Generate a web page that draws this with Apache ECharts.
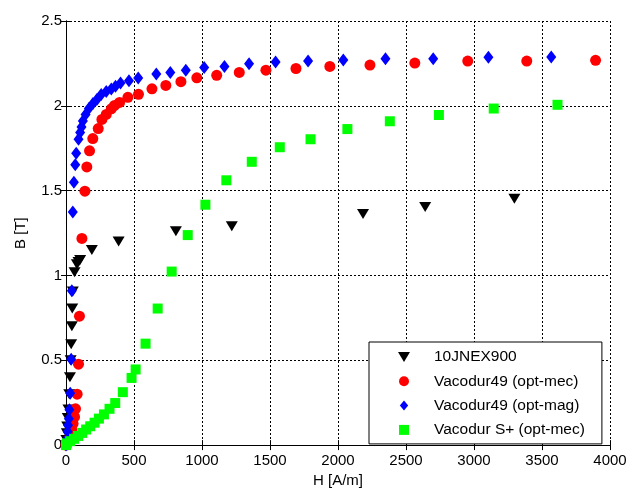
<!DOCTYPE html>
<html>
<head>
<meta charset="utf-8">
<script src="https://cdn.jsdelivr.net/npm/echarts@6/dist/echarts.min.js"></script>
<style>
html,body{margin:0;padding:0;background:#fff;}
#chart{width:641px;height:493px;}
</style>
</head>
<body>
<div id="chart"></div>
<script>
const seriesNames = ['10JNEX900', 'Vacodur49 (opt-mec)', 'Vacodur49 (opt-mag)', 'Vacodur S+ (opt-mec)'];

const jnexH = [0, 3, 6, 9, 13, 18, 24, 29, 34, 38, 43, 46, 50, 63, 80, 92, 104, 190, 387, 808, 1219, 2184, 2641, 3297];
const jnexB = [0, 0.03, 0.07, 0.11, 0.16, 0.21, 0.3, 0.4, 0.5, 0.594, 0.70, 0.805, 0.906, 1.019, 1.066, 1.08, 1.091, 1.15, 1.2, 1.26, 1.29, 1.362, 1.403, 1.452];

const mecH = [0, 15, 30, 42, 52, 63, 70, 82, 92, 99, 117, 139, 153, 173, 197, 237, 264, 296, 333, 357, 394, 455, 533, 632, 734, 845, 962, 1108, 1274, 1470, 1691, 1940, 2235, 2565, 2954, 3388, 3894];
const mecB = [0, 0.02, 0.05, 0.09, 0.127, 0.166, 0.214, 0.30, 0.477, 0.76, 1.218, 1.497, 1.64, 1.735, 1.807, 1.866, 1.92, 1.949, 1.982, 2.002, 2.02, 2.05, 2.068, 2.1, 2.12, 2.142, 2.165, 2.18, 2.197, 2.21, 2.22, 2.232, 2.24, 2.252, 2.264, 2.264, 2.268];

const magH = [0, 5, 12, 15, 21, 25, 31, 38, 43, 50, 58, 68, 75, 92, 104, 114, 124, 144, 168, 198, 227, 259, 296, 333, 364, 401, 463, 531, 664, 767, 881, 1016, 1165, 1346, 1541, 1780, 2039, 2349, 2700, 3106, 3568];
const magB = [0, 0.03, 0.078, 0.117, 0.156, 0.208, 0.306, 0.506, 0.91, 1.374, 1.55, 1.653, 1.72, 1.803, 1.842, 1.875, 1.91, 1.949, 1.984, 2.013, 2.037, 2.066, 2.085, 2.099, 2.115, 2.134, 2.148, 2.164, 2.187, 2.196, 2.21, 2.226, 2.232, 2.248, 2.258, 2.264, 2.27, 2.278, 2.278, 2.286, 2.288];

const spH = [0, 6, 31, 60, 90, 119, 148, 178, 210, 242, 279, 320, 362, 418, 482, 512, 585, 674, 777, 895, 1025, 1179, 1366, 1572, 1798, 2069, 2381, 2742, 3145, 3614];
const spB = [0, 0.01, 0.023, 0.037, 0.054, 0.072, 0.092, 0.111, 0.132, 0.156, 0.181, 0.214, 0.248, 0.312, 0.396, 0.446, 0.598, 0.805, 1.023, 1.238, 1.417, 1.561, 1.67, 1.756, 1.803, 1.863, 1.909, 1.946, 1.984, 2.006];

const xTicks = {min: 0, max: 4000, interval: 500};
const yTicks = {min: 0, max: 2.5, interval: 0.5};

function pairs(h, b) { return h.map((v, i) => [v, b[i]]); }

const FONT = 'Liberation Sans, Arial, sans-serif';
const chart = echarts.init(document.getElementById('chart'), null, {renderer: 'canvas'});

const tickStyle = {show: true, inside: true, length: 5, lineStyle: {color: '#000', width: 1}};
const lineStyle = {show: true, lineStyle: {color: '#000', width: 1}};

chart.setOption({
  backgroundColor: '#fff',
  animation: false,
  grid: {left: 66, right: 31, top: 21, bottom: 45, containLabel: false},
  xAxis: [
    {
      type: 'value', min: xTicks.min, max: xTicks.max, interval: xTicks.interval,
      name: 'H [A/m]', nameLocation: 'middle', nameGap: 26,
      nameTextStyle: {color: '#000', fontSize: 15, fontFamily: FONT},
      axisLine: lineStyle, axisTick: tickStyle,
      axisLabel: {color: '#000', fontSize: 15, fontFamily: FONT, margin: 8, formatter: v => String(v)},
      splitLine: {show: true, lineStyle: {color: '#000', width: 1, type: [2, 2]}}
    },
    {
      type: 'value', position: 'top', min: xTicks.min, max: xTicks.max, interval: xTicks.interval,
      axisLine: lineStyle, axisTick: tickStyle, axisLabel: {show: false}, splitLine: {show: false}
    }
  ],
  yAxis: [
    {
      type: 'value', min: yTicks.min, max: yTicks.max, interval: yTicks.interval,
      name: 'B [T]', nameLocation: 'middle', nameGap: 38, nameRotate: 90,
      nameTextStyle: {color: '#000', fontSize: 15, fontFamily: FONT},
      axisLine: lineStyle, axisTick: tickStyle,
      axisLabel: {color: '#000', fontSize: 15, fontFamily: FONT, margin: 4, formatter: v => String(v)},
      splitLine: {show: true, lineStyle: {color: '#000', width: 1, type: [2, 2]}}
    },
    {
      type: 'value', position: 'right', min: yTicks.min, max: yTicks.max, interval: yTicks.interval,
      axisLine: lineStyle, axisTick: tickStyle, axisLabel: {show: false}, splitLine: {show: false}
    }
  ],
  legend: {
    orient: 'vertical',
    left: 369, top: 342,
    padding: [7, 17, 6, 29],
    itemWidth: 50, itemHeight: 10, itemGap: 8.3,
    backgroundColor: '#fff',
    borderColor: '#000', borderWidth: 1,
    textStyle: {color: '#000', fontSize: 15.5, fontFamily: FONT, lineHeight: 15},
    data: [
      {name: seriesNames[0], icon: 'path://M0,0L12,0L6,10Z'},
      {name: seriesNames[1], icon: 'circle'},
      {name: seriesNames[2], icon: 'path://M5,0L10,6L5,12L0,6Z'},
      {name: seriesNames[3], icon: 'path://M0,0L10,0L10,10L0,10Z'}
    ]
  },
  series: [
    {
      name: seriesNames[0], type: 'scatter', data: pairs(jnexH, jnexB),
      symbol: 'triangle', symbolRotate: 180, symbolSize: [12, 10],
      itemStyle: {color: '#000', opacity: 1}
    },
    {
      name: seriesNames[1], type: 'scatter', data: pairs(mecH, mecB),
      symbol: 'circle', symbolSize: 11,
      itemStyle: {color: '#ff0000', opacity: 1}
    },
    {
      name: seriesNames[2], type: 'scatter', data: pairs(magH, magB),
      symbol: 'diamond', symbolSize: [10, 13],
      itemStyle: {color: '#0000ff', opacity: 1}
    },
    {
      name: seriesNames[3], type: 'scatter', data: pairs(spH, spB),
      symbol: 'rect', symbolSize: 10,
      itemStyle: {color: '#00ff00', opacity: 1}
    }
  ]
});
</script>
</body>
</html>
